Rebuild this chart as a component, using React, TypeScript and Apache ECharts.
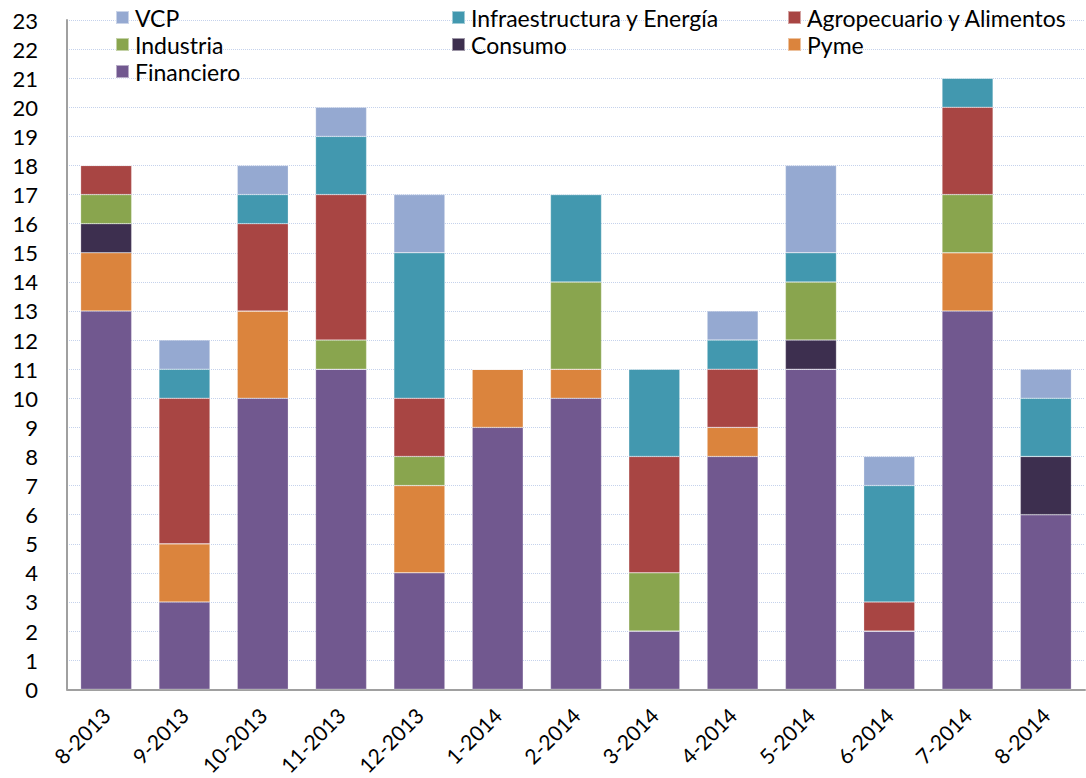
import React, { useEffect, useRef } from "react";
import * as echarts from "echarts";

const categories = ["8-2013","9-2013","10-2013","11-2013","12-2013","1-2014","2-2014","3-2014","4-2014","5-2014","6-2014","7-2014","8-2014"];
const financiero = [13, 3, 10, 11, 4, 9, 10, 2, 8, 11, 2, 13, 6];
const pyme = [2, 2, 3, 0, 3, 2, 1, 0, 1, 0, 0, 2, 0];
const consumo = [1, 0, 0, 0, 0, 0, 0, 0, 0, 1, 0, 0, 2];
const industria = [1, 0, 0, 1, 1, 0, 3, 2, 0, 2, 0, 2, 0];
const agro = [1, 5, 3, 5, 2, 0, 0, 4, 2, 0, 1, 3, 0];
const infra = [0, 1, 1, 2, 5, 0, 3, 3, 1, 1, 4, 1, 2];
const vcp = [0, 1, 1, 1, 2, 0, 0, 0, 1, 3, 1, 0, 1];

const seriesDefs = [
  { name: "Financiero", data: financiero, color: "#71588F" },
  { name: "Pyme", data: pyme, color: "#DB843D" },
  { name: "Consumo", data: consumo, color: "#3D2F4F" },
  { name: "Industria", data: industria, color: "#89A54E" },
  { name: "Agropecuario y Alimentos", data: agro, color: "#A84543" },
  { name: "Infraestructura y Energía", data: infra, color: "#4298AF" },
  { name: "VCP", data: vcp, color: "#95A9D1" },
];

const FONT = "Lato";

export default function App() {
  const ref = useRef<HTMLDivElement>(null);
  useEffect(() => {
    if (!ref.current) return;
    const chart = echarts.init(ref.current, null, { renderer: "svg" });
    const legendBase = {
      orient: "vertical" as const,
      top: 6,
      itemWidth: 13,
      itemHeight: 13,
      itemGap: 4,
      icon: "rect",
      textStyle: { fontFamily: FONT, fontSize: 23, color: "#000", padding: [0, 0, 0, 1] },
      padding: 0,
    };
    chart.setOption({
      animation: false,
      textStyle: { fontFamily: FONT },
      legend: [
        { ...legendBase, left: 115, data: ["VCP", "Industria", "Financiero"] },
        { ...legendBase, left: 451, data: ["Infraestructura y Energía", "Consumo"] },
        { ...legendBase, left: 787, data: ["Agropecuario y Alimentos", "Pyme"] },
      ],
      grid: { left: 67, right: 1, top: 20, bottom: 87, containLabel: false },
      xAxis: {
        type: "category",
        data: categories,
        axisLine: { lineStyle: { color: "#A0A0A0", width: 2 } },
        axisTick: { show: false },
        axisLabel: {
          rotate: 45,
          interval: 0,
          fontFamily: FONT,
          fontSize: 21,
          color: "#000",
          margin: 22,
        },
      },
      yAxis: {
        type: "value",
        min: 0,
        max: 23,
        interval: 1,
        axisLine: { show: true, lineStyle: { color: "#A0A0A0", width: 2 } },
        axisTick: { show: false },
        axisLabel: { fontFamily: FONT, fontSize: 22, color: "#000", margin: 29 },
        splitLine: { lineStyle: { color: "#C5D2EC", type: "dotted", width: 1 } },
      },
      series: seriesDefs.map((s) => ({
        name: s.name,
        type: "bar",
        stack: "total",
        barWidth: 51,
        data: s.data,
        itemStyle: { color: s.color, borderColor: "rgba(255,255,255,0.5)", borderWidth: 0.5 },
      })),
    });
    return () => chart.dispose();
  }, []);
  return (
    <div
      ref={ref}
      style={{ position: "absolute", left: 0, top: 0, width: 1086, height: 778 }}
    />
  );
}
